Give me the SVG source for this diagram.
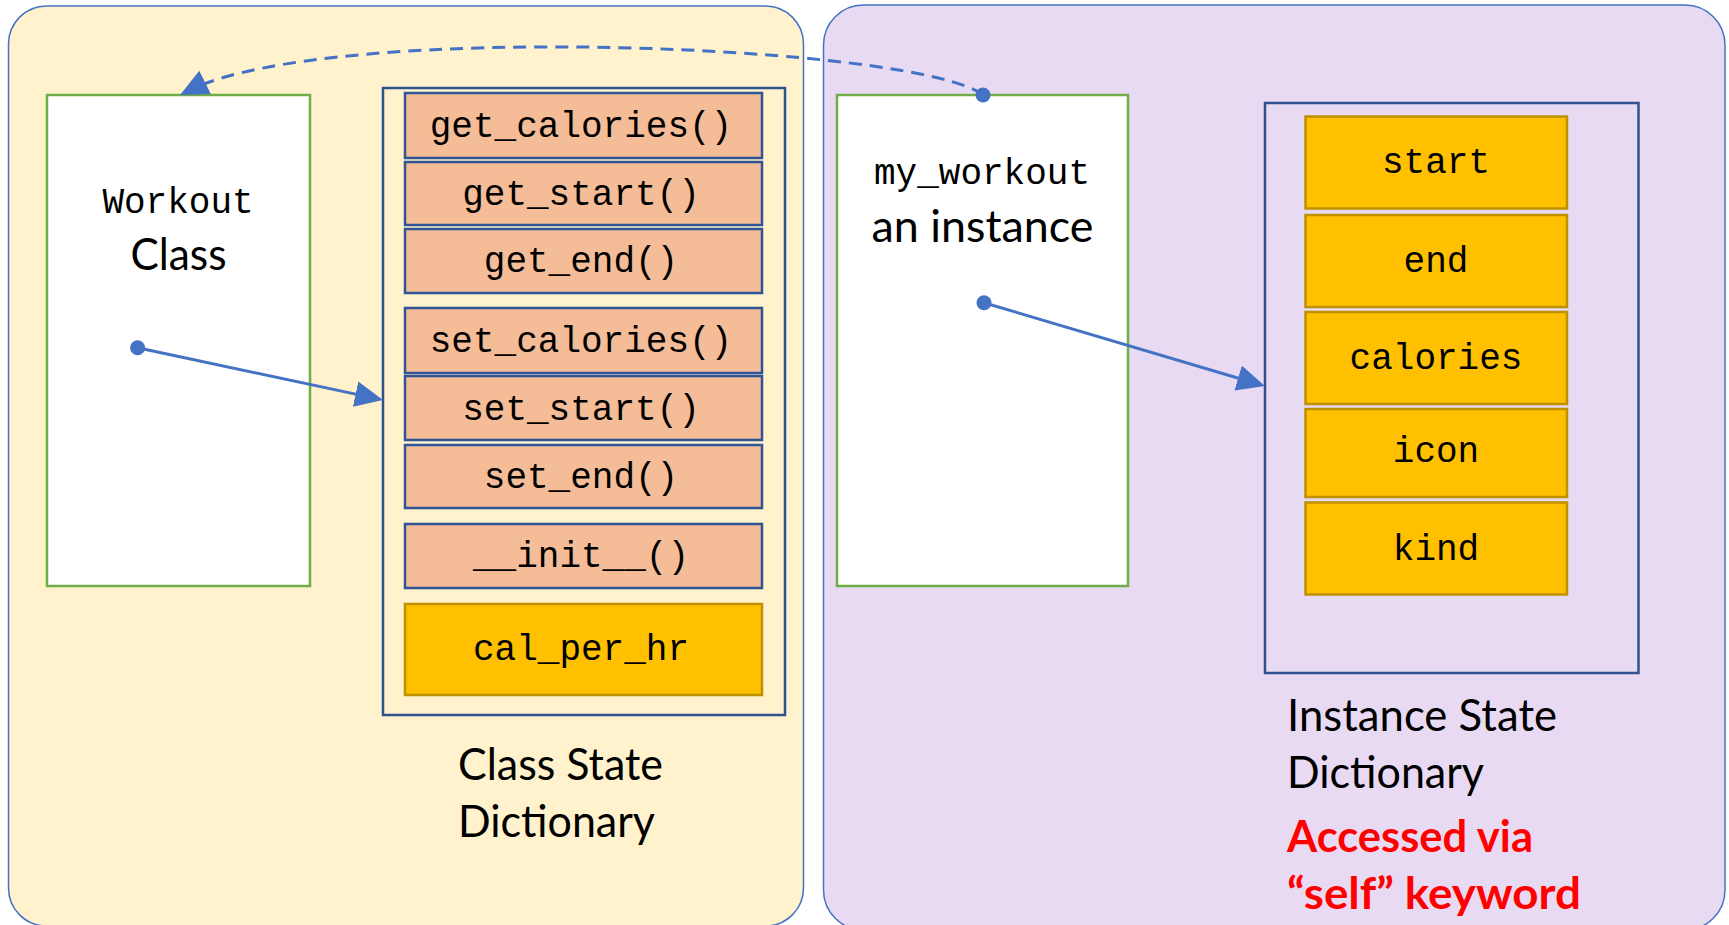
<svg xmlns="http://www.w3.org/2000/svg" width="1729" height="925" viewBox="0 0 1729 925">
  <defs>
    <style>
      .panel-class{fill:#FFF2CC;stroke:#4472C4;stroke-width:1.5}
      .panel-inst{fill:#E8DAF2;stroke:#4472C4;stroke-width:1.5}
      .obj{fill:#FFFFFF;stroke:#70AD47;stroke-width:2.5}
      .dict{fill:none;stroke:#2F528F;stroke-width:2.5}
      .method{fill:#F4BC97;stroke:#2F5597;stroke-width:2.5}
      .attr{fill:#FFC000;stroke:#BF9000;stroke-width:2.5}
      .mono{font-family:"Liberation Mono","Courier New",monospace;font-size:36px;fill:#000000;text-anchor:middle}
      .label{font-family:Lato,"Liberation Sans",sans-serif;font-size:44px;fill:#000000}
      .note{font-family:Lato,"Liberation Sans",sans-serif;font-size:44px;font-weight:700;fill:#FF0000}
      .conn{fill:none;stroke:#4472C4;stroke-width:3}
      .dot{fill:#4472C4}
    </style>
    <marker id="arrow" markerUnits="userSpaceOnUse" markerWidth="30" markerHeight="28" refX="18" refY="13" orient="auto">
      <path d="M0,0 L28,13 L0,26 z" fill="#4472C4"/>
    </marker>
  </defs>

  <!-- background panels -->
  <g id="class-panel">
    <rect class="panel-class" x="8.5" y="6" width="795" height="920" rx="38" ry="38"/>
  </g>
  <g id="instance-panel">
    <rect class="panel-inst" x="823.5" y="5" width="901.5" height="925" rx="40" ry="40"/>
  </g>

  <!-- class object -->
  <g id="workout-class">
    <rect class="obj" x="47" y="95" width="263" height="491"/>
    <text class="mono" x="178" y="213">Workout</text>
    <text class="label" x="178.5" y="270" text-anchor="middle" textLength="96" lengthAdjust="spacingAndGlyphs">Class</text>
  </g>

  <!-- class state dictionary -->
  <g id="class-dict">
    <rect class="dict" x="383" y="88" width="402" height="627"/>
    <rect class="method" x="405" y="93" width="357" height="65"/>
    <text class="mono" x="581" y="137">get_calories()</text>
    <rect class="method" x="405" y="162" width="357" height="63"/>
    <text class="mono" x="581" y="205">get_start()</text>
    <rect class="method" x="405" y="229" width="357" height="64"/>
    <text class="mono" x="581" y="272">get_end()</text>
    <rect class="method" x="405" y="308" width="357" height="65"/>
    <text class="mono" x="581" y="352">set_calories()</text>
    <rect class="method" x="405" y="376" width="357" height="64"/>
    <text class="mono" x="581" y="420">set_start()</text>
    <rect class="method" x="405" y="445" width="357" height="63"/>
    <text class="mono" x="581" y="488">set_end()</text>
    <rect class="method" x="405" y="524" width="357" height="64"/>
    <text class="mono" x="581" y="567">__init__()</text>
    <rect class="attr" x="405" y="604" width="357" height="91"/>
    <text class="mono" x="581" y="660">cal_per_hr</text>
    <text class="label" x="458" y="780" textLength="205" lengthAdjust="spacingAndGlyphs">Class State</text>
    <text class="label" x="458" y="837" textLength="197" lengthAdjust="spacingAndGlyphs">Dictionary</text>
  </g>

  <!-- instance object -->
  <g id="my-workout">
    <rect class="obj" x="837" y="95" width="291" height="491"/>
    <text class="mono" x="982" y="184">my_workout</text>
    <text class="label" x="982.5" y="242" text-anchor="middle" textLength="222" lengthAdjust="spacingAndGlyphs">an instance</text>
  </g>

  <!-- instance state dictionary -->
  <g id="instance-dict">
    <rect class="dict" x="1265" y="103" width="373.5" height="570"/>
    <rect class="attr" x="1305.5" y="116.5" width="261.5" height="92"/>
    <text class="mono" x="1436" y="173">start</text>
    <rect class="attr" x="1305.5" y="215" width="261.5" height="92"/>
    <text class="mono" x="1436" y="272">end</text>
    <rect class="attr" x="1305.5" y="312" width="261.5" height="92"/>
    <text class="mono" x="1436" y="368.5">calories</text>
    <rect class="attr" x="1305.5" y="409" width="261.5" height="88"/>
    <text class="mono" x="1436" y="462">icon</text>
    <rect class="attr" x="1305.5" y="502.5" width="261.5" height="92"/>
    <text class="mono" x="1436" y="559.5">kind</text>
    <text class="label" x="1287" y="731" textLength="270" lengthAdjust="spacingAndGlyphs">Instance State</text>
    <text class="label" x="1287" y="788" textLength="197" lengthAdjust="spacingAndGlyphs">Dictionary</text>
    <text class="note" x="1287" y="852" textLength="246" lengthAdjust="spacingAndGlyphs">Accessed via</text>
    <text class="note" x="1287" y="909" textLength="294" lengthAdjust="spacingAndGlyphs">“self” keyword</text>
  </g>

  <!-- connectors -->
  <g id="connectors">
    <path class="conn" d="M983,95 C920,45 330,20 189,90.5" stroke-dasharray="13 8" marker-end="url(#arrow)"/>
    <circle class="dot" cx="983" cy="95" r="7.5"/>
    <path class="conn" d="M137.6,347.7 L373.2,397.9" marker-end="url(#arrow)"/>
    <circle class="dot" cx="137.6" cy="347.7" r="7.5"/>
    <path class="conn" d="M984,302.7 L1255.4,383.2" marker-end="url(#arrow)"/>
    <circle class="dot" cx="984" cy="302.7" r="7.5"/>
  </g>
</svg>
